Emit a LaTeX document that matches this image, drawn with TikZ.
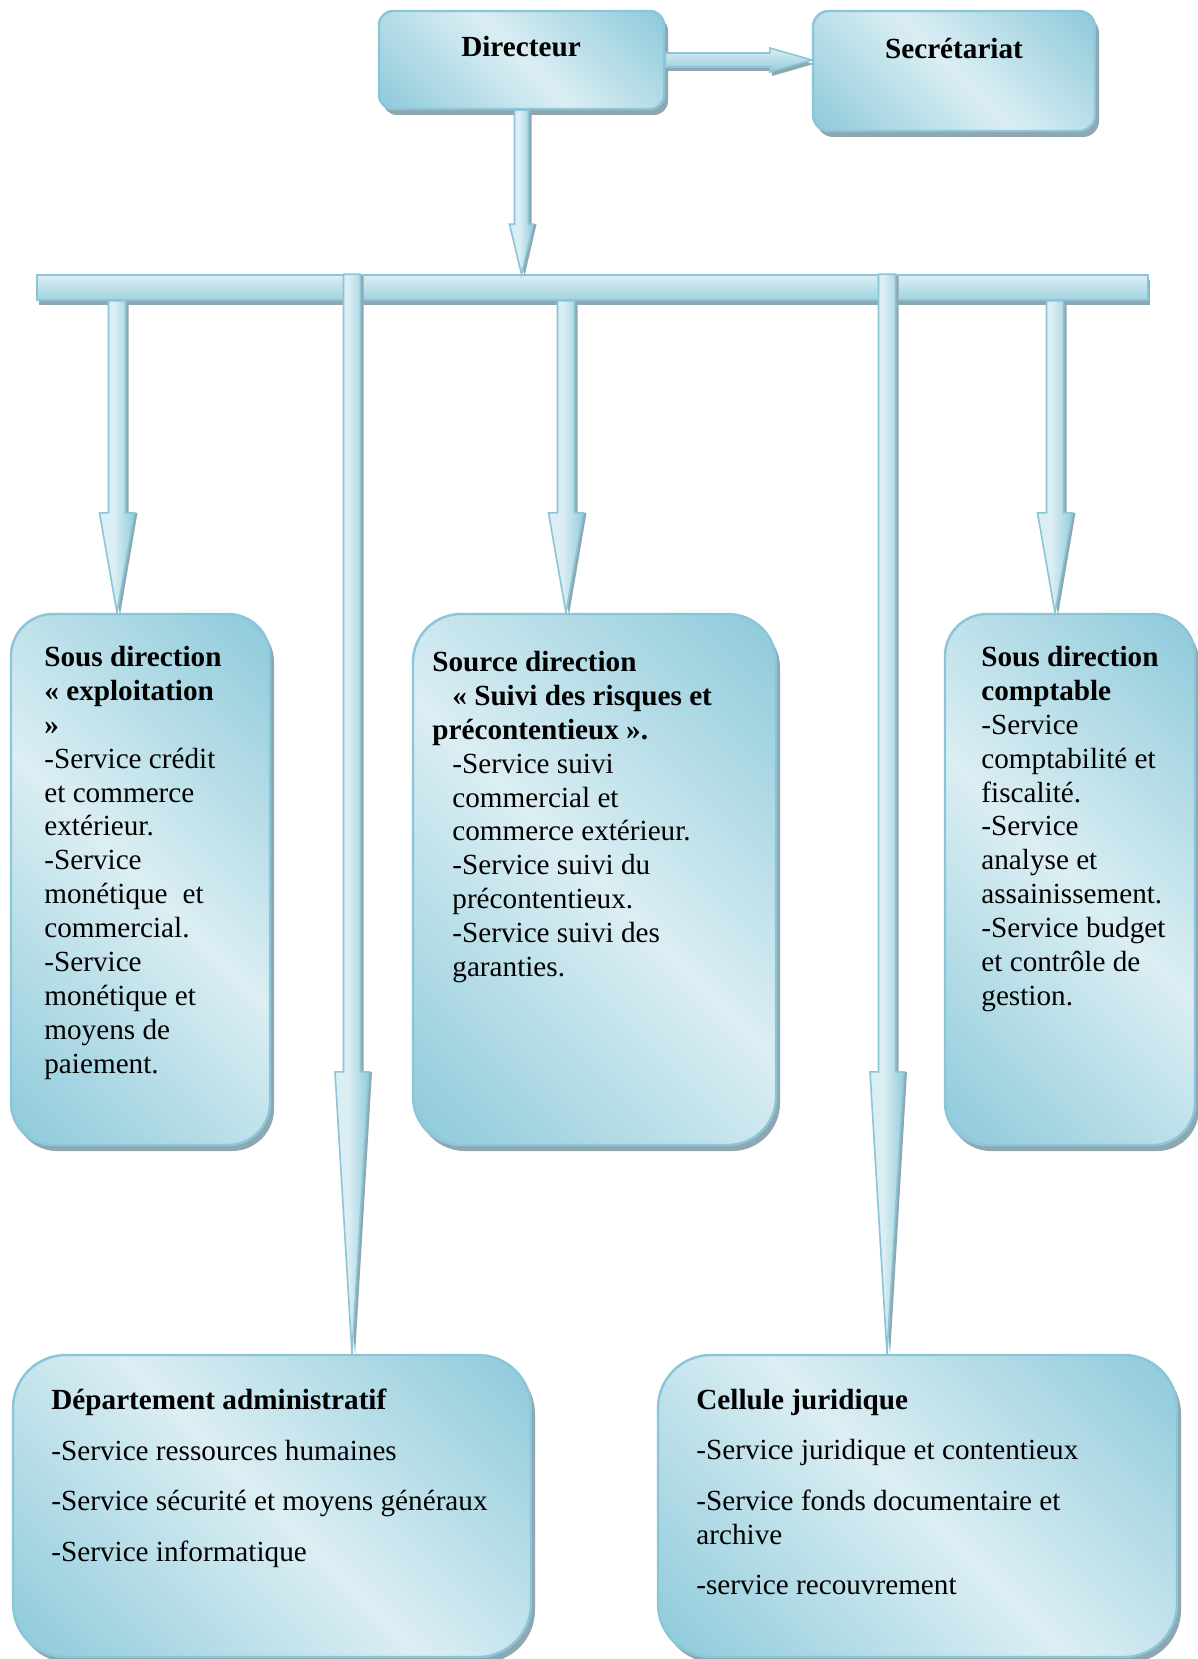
\documentclass[tikz,border=0pt]{standalone}
\usepackage{fontspec}
\setmainfont{Liberation Serif}
\usetikzlibrary{calc,shadows}
\definecolor{lt}{HTML}{DBEEF3}
\definecolor{dk}{HTML}{92CCDC}
\definecolor{bd}{HTML}{8AC6D7}
\definecolor{shd}{HTML}{8FA7B0}
\pgfdeclareverticalshading{boxsh}{100bp}{color(0bp)=(dk); color(17bp)=(dk); color(50bp)=(lt); color(83bp)=(dk); color(100bp)=(dk)}
\pgfdeclarehorizontalshading{arrsh}{100bp}{color(0bp)=(lt); color(25bp)=(lt); color(45bp)=(lt); color(75bp)=(dk); color(100bp)=(dk)}
\newcommand\fs{\fontsize{14.6pt}{16.95pt}\selectfont}
% vertical block arrow: #1 x (px), #2 start anchor, #3 end anchor, #4 half shaft, #5 half head, #6 head length
\newcommand\varr[6]{%
  \path[fill=shd] let \p1=(#1,0), \p2=(#2), \p3=(#3) in
    (\x1-#4+1.5pt,\y2-1pt) -- (\x1+#4+1.5pt,\y2-1pt) -- (\x1+#4+1.5pt,\y3+#6) --
    (\x1+#5+1.5pt,\y3+#6) -- (\x1+1.5pt,\y3-1pt) -- (\x1-#5+1.5pt,\y3+#6) --
    (\x1-#4+1.5pt,\y3+#6) -- cycle;
  \path[arrst] let \p1=(#1,0), \p2=(#2), \p3=(#3) in
    (\x1-#4,\y2) -- (\x1+#4,\y2) -- (\x1+#4,\y3+#6) -- (\x1+#5,\y3+#6) --
    (\x1,\y3) -- (\x1-#5,\y3+#6) -- (\x1-#4,\y3+#6) -- cycle;
}
\begin{document}
\begin{tikzpicture}[x=0.5pt,y=-0.5pt,
  boxst/.style={draw=bd, line width=1.2pt, shading=boxsh, shading angle=-45,
    drop shadow={shadow xshift=2pt, shadow yshift=-3pt, fill=shd, opacity=1},
    inner sep=0pt},
  arrst/.style={draw=bd, line width=0.8pt, shading=arrsh, line join=miter},
  harrst/.style={draw=bd, line width=0.8pt, top color=lt, bottom color=dk, line join=miter},
  txt/.style={font=\fs, align=left, anchor=north west, inner sep=0pt},
  ttl/.style={font=\fs\bfseries, anchor=base, inner sep=0pt}]
\useasboundingbox (0,0) rectangle (1198,1659);
\fill[white] (0,0) rectangle (1198,1659);
\clip (0,0) rectangle (1198,1659);

% boxes
\node[boxst, rounded corners=7pt, minimum width=142.5pt, minimum height=49pt] (dir) at (521.5,60) {};
\node[boxst, rounded corners=8pt, minimum width=141pt, minimum height=60pt] (sec) at (954,71) {};
\node[boxst, rounded corners=21pt, minimum width=129.5pt, minimum height=265.5pt] (b1) at (140.5,879.5) {};
\node[boxst, rounded corners=24pt, minimum width=181.5pt, minimum height=265.5pt] (b2) at (594.5,879.5) {};
\node[boxst, rounded corners=21pt, minimum width=125pt, minimum height=265.5pt] (b3) at (1070,879.5) {};
\node[boxst, rounded corners=26.5pt, minimum width=259pt, minimum height=151pt] (b4) at (272,1506) {};
\node[boxst, rounded corners=26.5pt, minimum width=259.5pt, minimum height=151pt] (b5) at (917.5,1506) {};

% bar
\node[draw=bd, line width=0.8pt, top color=lt, bottom color=dk!80!lt, minimum width=555.5pt, minimum height=12.5pt, inner sep=0pt,
  drop shadow={shadow xshift=1pt, shadow yshift=-2.5pt, fill=shd, opacity=1}] (bar) at (592.5,287.5) {};

% Directeur -> Secretariat
\path[fill=shd] let \p1=(dir.east), \p2=(sec.west) in
  (\x1,\y1+3.5pt-2pt) -- (\x2-21pt+1pt,\y1+3.5pt-2pt) -- (\x2-21pt+1pt,\y1+6pt-2pt) -- (\x2+1pt,\y1-2pt) --
  (\x2-21pt+1pt,\y1-6pt-2pt) -- (\x2-21pt+1pt,\y1-3.5pt-2pt) -- (\x1,\y1-3.5pt-2pt) -- cycle;
\path[harrst] let \p1=(dir.east), \p2=(sec.west) in
  (\x1,\y1+3.5pt) -- (\x2-21pt,\y1+3.5pt) -- (\x2-21pt,\y1+6pt) -- (\x2,\y1) --
  (\x2-21pt,\y1-6pt) -- (\x2-21pt,\y1-3.5pt) -- (\x1,\y1-3.5pt) -- cycle;

% Directeur -> bar
\varr{521.5}{dir.south}{bar.north}{3.5pt}{6pt}{25pt}
% bar -> sub directions
\varr{117}{bar.south}{b1.north}{4.25pt}{8.75pt}{50pt}
\varr{566}{bar.south}{b2.north}{4.25pt}{8.75pt}{50pt}
\varr{1055}{bar.south}{b3.north}{4.25pt}{8.75pt}{50pt}
% bar -> bottom boxes
\varr{352}{bar.north}{b4.north}{4.25pt}{8.5pt}{141pt}
\varr{887}{bar.north}{b5.north}{4.25pt}{8.5pt}{141pt}

% texts
\node[ttl] (dirt) at (521,57) {Directeur};
\node[ttl] (sect) at (954,59) {Secrétariat};

\node[txt] (t1) at (44,644) {\rule{0pt}{11pt}\textbf{Sous direction}\\
\textbf{« exploitation}\\
\textbf{»}\\
-Service crédit\\
et commerce\\
extérieur.\\
-Service\\
monétique\hspace{7.5pt}et\\
commercial.\\
-Service\\
monétique et\\
moyens de\\
paiement.};

\node[txt] (t2) at (432,649) {\rule{0pt}{11pt}\textbf{Source direction}\\
\hspace*{10pt}\textbf{« Suivi des risques et}\\
\textbf{précontentieux ».}\\
\hspace*{10pt}-Service suivi\\
\hspace*{10pt}commercial et\\
\hspace*{10pt}commerce extérieur.\\
\hspace*{10pt}-Service suivi du\\
\hspace*{10pt}précontentieux.\\
\hspace*{10pt}-Service suivi des\\
\hspace*{10pt}garanties.};

\node[txt] (t3) at (981,644) {\rule{0pt}{11pt}\textbf{Sous direction}\\
\textbf{comptable}\\
-Service\\
comptabilité et\\
fiscalité.\\
-Service\\
analyse et\\
assainissement.\\
-Service budget\\
et contrôle de\\
gestion.};

\node[txt] (t4) at (51,1387) {\rule{0pt}{11pt}\textbf{Département administratif}\\[8.35pt]
-Service ressources humaines\\[8.35pt]
-Service sécurité et moyens généraux\\[8.35pt]
-Service informatique};

\node[txt] (t5) at (696,1387) {\rule{0pt}{11pt}\textbf{Cellule juridique}\\[8pt]
-Service juridique et contentieux\\[8.5pt]
-Service fonds documentaire et\\
archive\\[8pt]
-service recouvrement};
\end{tikzpicture}
\end{document}
